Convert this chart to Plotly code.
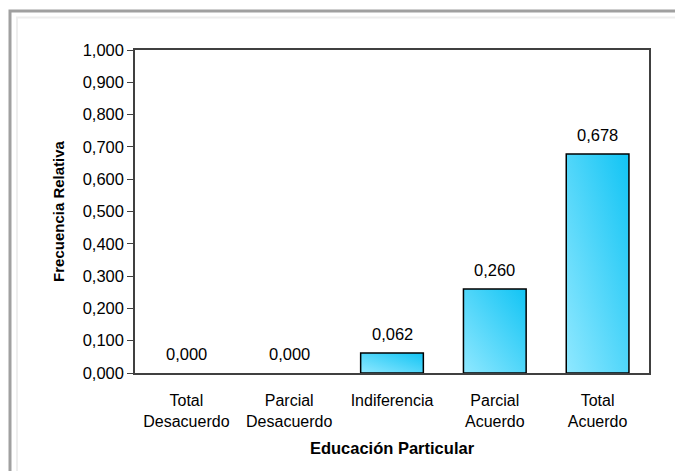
import base64
import plotly.graph_objects as go

categories = ["Total<br>Desacuerdo", "Parcial<br>Desacuerdo", "Indiferencia",
              "Parcial<br>Acuerdo", "Total<br>Acuerdo"]
values = [0.000, 0.000, 0.062, 0.260, 0.678]
y_ticks = [0.0, 0.1, 0.2, 0.3, 0.4, 0.5, 0.6, 0.7, 0.8, 0.9, 1.0]
x_title = "Educación Particular"
y_title = "Frecuencia Relativa"

FONT = "Liberation Sans, Arial, sans-serif"
BAR_W = 0.61

svg = ("<svg xmlns='http://www.w3.org/2000/svg' width='100' height='100' preserveAspectRatio='none'>"
       "<defs><linearGradient id='g' x1='0' y1='1' x2='1' y2='0'>"
       "<stop offset='0' stop-color='#8fe8ff'/><stop offset='1' stop-color='#12c4f4'/>"
       "</linearGradient></defs><rect width='100' height='100' fill='url(#g)'/></svg>")
src = "data:image/svg+xml;base64," + base64.b64encode(svg.encode()).decode()

fig = go.Figure()
fig.add_trace(go.Bar(
    x=list(range(len(categories))), y=values, width=BAR_W,
    marker=dict(color="rgba(0,0,0,0)",
                line=dict(color="#000000", width=[1.5 if v > 0 else 0 for v in values])),
    hoverinfo="skip",
))

images = []
for i, v in enumerate(values):
    if v > 0:
        images.append(dict(source=src, xref="x", yref="y", x=i - BAR_W / 2, y=v,
                           sizex=BAR_W, sizey=v, xanchor="left", yanchor="top",
                           sizing="stretch", layer="below"))

annotations = []
for i, v in enumerate(values):
    annotations.append(dict(x=i, y=v, xref="x", yref="y", text=f"{v:.3f}".replace(".", ","),
                            showarrow=False, yshift=19, font=dict(family=FONT, size=16.5, color="#000")))

def px_x(p):
    return (p - 135) / 514.0

def px_y(p):
    return (373 - p) / 323.0

shapes = [
    dict(type="rect", xref="paper", yref="paper", x0=px_x(10), x1=px_x(720), y0=px_y(520), y1=px_y(11),
         line=dict(color="#a0a0a0", width=3), layer="below"),
    dict(type="rect", xref="paper", yref="paper", x0=px_x(17), x1=px_x(720), y0=px_y(520), y1=px_y(17.5),
         line=dict(color="#eeeeee", width=2), layer="below"),
]

fig.update_layout(
    width=675, height=471,
    margin=dict(l=135, r=26, t=50, b=98),
    paper_bgcolor="white", plot_bgcolor="white",
    separators=",.",
    showlegend=False,
    font=dict(family=FONT, size=15, color="#000"),
    images=images, annotations=annotations, shapes=shapes,
    xaxis=dict(tickmode="array", tickvals=list(range(len(categories))), ticktext=categories,
               range=[-0.5, len(categories) - 0.5], showgrid=False, zeroline=False,
               showline=True, linecolor="#404040", linewidth=1.5, mirror=True,
               ticks="outside", ticklen=12, tickcolor="rgba(0,0,0,0)",
               tickfont=dict(family=FONT, size=16, color="#000"),
               title=dict(text="<b>" + x_title + "</b>", font=dict(family=FONT, size=16.5, color="#000"),
                          standoff=14)),
    yaxis=dict(range=[0, 1.0], tickmode="array", tickvals=y_ticks, tickformat=".3f",
               showgrid=False, zeroline=False, showline=True, linecolor="#404040", linewidth=1.5,
               mirror=True, ticks="outside", ticklen=6, tickcolor="#404040", tickwidth=1.2,
               tickfont=dict(family=FONT, size=16.5, color="#000"),
               title=dict(text="<b>" + y_title + "</b>", font=dict(family=FONT, size=15, color="#000"),
                          standoff=14)),
)

fig.write_html("out.html", config={"displayModeBar": False},
               post_script="document.body.style.margin='0';document.body.style.padding='0';")
